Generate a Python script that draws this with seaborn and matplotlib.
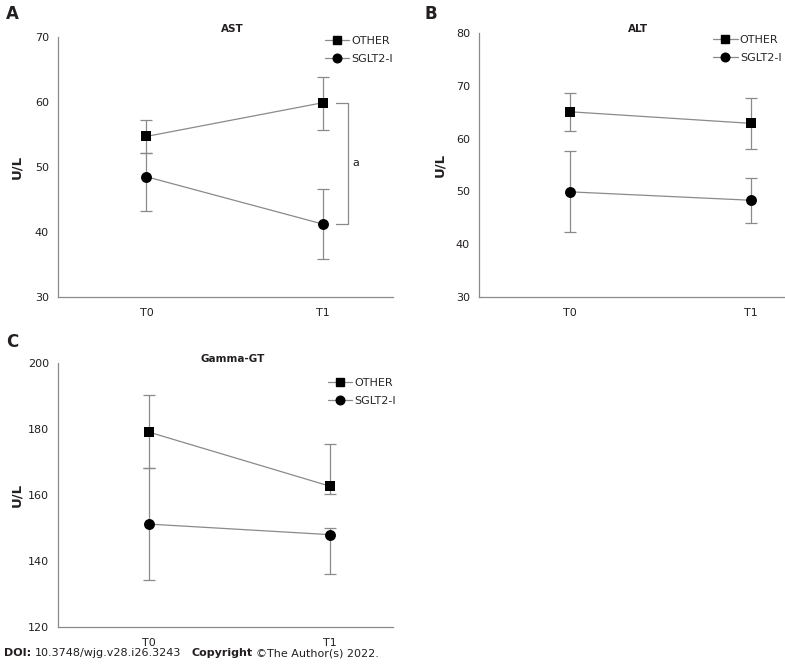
import numpy as np
import pandas as pd
import matplotlib.pyplot as plt
import seaborn as sns
from matplotlib.lines import Line2D

times = ['T0', 'T1']
groups = ['OTHER', 'SGLT2-I']

# mean, lower and upper error bar ends, per panel and group
ast_mean = {'OTHER': [54.7, 59.9], 'SGLT2-I': [48.5, 41.2]}
ast_low = {'OTHER': [52.1, 55.7], 'SGLT2-I': [43.3, 35.9]}
ast_high = {'OTHER': [57.3, 63.9], 'SGLT2-I': [52.1, 46.6]}

alt_mean = {'OTHER': [65.1, 62.9], 'SGLT2-I': [49.9, 48.3]}
alt_low = {'OTHER': [61.5, 58.1], 'SGLT2-I': [42.3, 43.9]}
alt_high = {'OTHER': [68.7, 67.7], 'SGLT2-I': [57.6, 52.6]}

ggt_mean = {'OTHER': [179.0, 162.6], 'SGLT2-I': [151.1, 147.9]}
ggt_low = {'OTHER': [168.0, 160.2], 'SGLT2-I': [134.3, 135.9]}
ggt_high = {'OTHER': [190.1, 175.3], 'SGLT2-I': [168.0, 150.0]}

sns.set_style('white')
plt.rcParams['font.family'] = ['DejaVu Sans']

gray = '#8a8a8a'
txt = '#231f20'
markers = {'OTHER': 's', 'SGLT2-I': 'o'}
msize = {'OTHER': 58, 'SGLT2-I': 62}
leg_ms = {'OTHER': 5.6, 'SGLT2-I': 6.2}


def to_long(mean, low, high):
    rows = []
    for g in groups:
        for i, t in enumerate(times):
            rows.append({'group': g, 'x': i, 'time': t, 'mean': mean[g][i],
                         'low': low[g][i], 'high': high[g][i]})
    return pd.DataFrame(rows)


def panel(ax, df, title, ylim, yticks, xright, title_y, leg_pos, ylab_x):
    for g in groups:
        d = df[df['group'] == g]
        ax.errorbar(d['x'], d['mean'], yerr=[d['mean'] - d['low'], d['high'] - d['mean']],
                    fmt='none', ecolor=gray, elinewidth=0.9, capsize=4, capthick=0.9, zorder=1)
    sns.lineplot(data=df, x='x', y='mean', hue='group', palette={g: gray for g in groups},
                 linewidth=0.9, legend=False, ax=ax, zorder=2)
    for g in groups:
        d = df[df['group'] == g]
        sns.scatterplot(x=d['x'], y=d['mean'], marker=markers[g], s=msize[g], color='black',
                        edgecolor='black', linewidth=0, legend=False, ax=ax, zorder=3)
    ax.set_xlim(-0.5, xright)
    ax.set_ylim(*ylim)
    ax.set_yticks(yticks)
    ax.set_xticks([0, 1])
    ax.set_xticklabels(times)
    ax.set_xlabel('')
    ax.set_ylabel('U/L', fontsize=9.5, fontweight='bold', color=txt)
    ax.yaxis.set_label_coords(ylab_x, 0.5)
    sns.despine(ax=ax)
    for s in ['left', 'bottom']:
        ax.spines[s].set_color(gray)
        ax.spines[s].set_linewidth(0.9)
    ax.tick_params(axis='both', colors=gray, labelcolor=txt, labelsize=8, length=3, width=0.8)
    ax.tick_params(axis='x', pad=5)
    ax.text(0.52, title_y, title, transform=ax.transAxes, ha='center', va='center',
            fontsize=7.5, fontweight='bold', color=txt)
    handles = [Line2D([], [], color=gray, lw=0.9, marker=markers[g], markersize=leg_ms[g],
                      markerfacecolor='black', markeredgecolor='black') for g in groups]
    ax.legend(handles, groups, loc='upper left', bbox_to_anchor=leg_pos, frameon=False,
              fontsize=8, handlelength=2.2, handletextpad=0.2, labelspacing=0.73,
              borderaxespad=0, borderpad=0)


fig = plt.figure(figsize=(7.85, 6.65), dpi=100)
ax_a = fig.add_axes([0.0739, 0.5534, 0.4268, 0.391])
ax_b = fig.add_axes([0.6102, 0.5539, 0.3898, 0.3961])
ax_c = fig.add_axes([0.0739, 0.0576, 0.4268, 0.397])

df_a = to_long(ast_mean, ast_low, ast_high)
df_b = to_long(alt_mean, alt_low, alt_high)
df_c = to_long(ggt_mean, ggt_low, ggt_high)

panel(ax_a, df_a, 'AST', (30, 70), [30, 40, 50, 60, 70], 1.395, 1.031, (0.797, 1.004), -0.103)
panel(ax_b, df_b, 'ALT', (30, 80), [30, 40, 50, 60, 70, 80], 1.19, 1.016, (0.765, 0.995), -0.106)
panel(ax_c, df_c, 'Gamma-GT', (120, 200), [120, 140, 160, 180, 200], 1.35, 1.014, (0.806, 0.941), -0.103)

fig.text(0.008, 0.992, 'A', fontsize=12, fontweight='bold', color=txt, va='top')
fig.text(0.541, 0.992, 'B', fontsize=12, fontweight='bold', color=txt, va='top')
fig.text(0.008, 0.499, 'C', fontsize=12, fontweight='bold', color=txt, va='top')

# significance bracket at T1 in panel A
y_top = ast_mean['OTHER'][1]
y_bot = ast_mean['SGLT2-I'][1]
ax_a.plot([1.075, 1.14, 1.14, 1.075], [y_top, y_top, y_bot, y_bot], color=gray, lw=0.9)
ax_a.text(1.165, (y_top + y_bot) / 2, 'a', fontsize=8, color=txt, va='center')

# footer, pieces placed one after another
pieces = [('DOI:', 'bold', ' '), ('10.3748/wjg.v28.i26.3243', 'normal', '   '),
          ('Copyright', 'bold', ' '), ('\u00a9The Author(s) 2022.', 'normal', '')]
renderer = fig.canvas.get_renderer()
x = 4
for s, w, gap in pieces:
    t = fig.text(x / 785, 0.018, s, fontsize=8.0, fontweight=w, color=txt, va='center')
    bb = t.get_window_extent(renderer)
    x = bb.x1 + 3.5 * len(gap)

plt.savefig('out.png', dpi=100)
plt.close()
